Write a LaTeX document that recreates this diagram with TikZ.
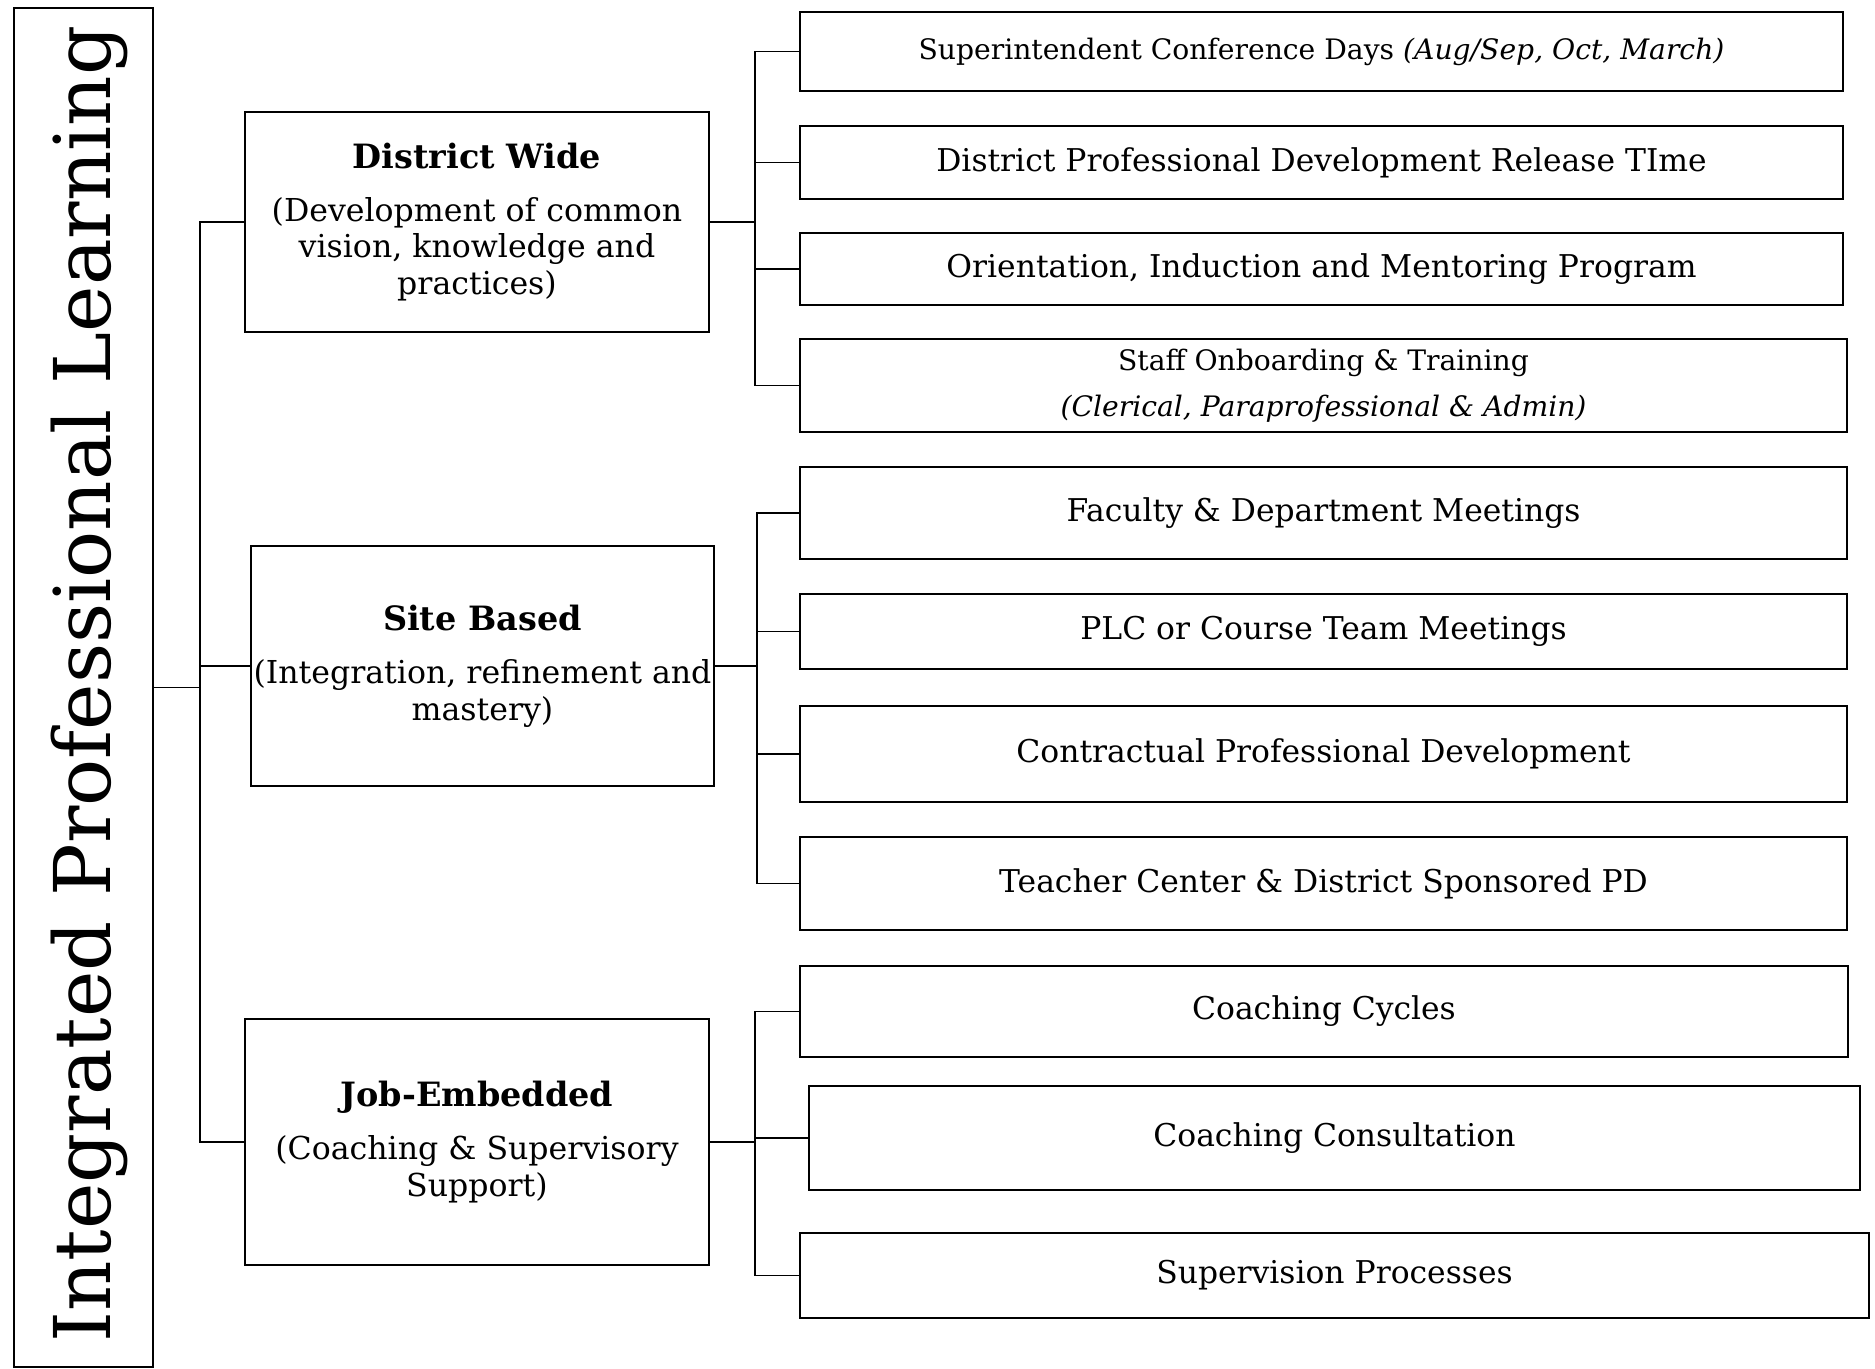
\documentclass[tikz,border=0pt]{standalone}
\usepackage{fontspec}
\setmainfont{DejaVu Serif}
\begin{document}
\begin{tikzpicture}[x=1bp,y=-1bp,
  frame/.style={draw=black,line width=1.6bp,inner sep=0pt,align=center,
    rectangle,text=black},
  item/.style={frame,font=\fontsize{31.5}{36}\selectfont},
  smallitem/.style={frame,font=\fontsize{28.3}{46}\selectfont},
  group/.style={frame,font=\fontsize{31.7}{37}\selectfont},
  head/.style={font=\fontsize{33.6}{37}\selectfont\bfseries},
  link/.style={draw=black,line width=1.6bp}]
\useasboundingbox (0,0) rectangle (1875,1369);

% root column
\node[frame,minimum width=139bp,minimum height=1359bp] (root) at (83.5,687.5) {};
\node[rotate=90,anchor=base,font=\fontsize{78.6}{90}\selectfont,inner sep=0pt]
  (title) at (110,684) {Integrated Professional Learning};

% three groups
\node[group,minimum width=464bp,minimum height=220bp] (dw) at (477,222)
  {{\fontsize{33.6}{37}\selectfont\bfseries District Wide}\\[16bp](Development of common\\vision, knowledge and\\practices)};
\node[group,minimum width=463bp,minimum height=240bp] (sb) at (482.5,666)
  {{\fontsize{33.6}{37}\selectfont\bfseries Site Based}\\[16bp](Integration, refinement and\\mastery)};
\node[group,minimum width=464bp,minimum height=246bp] (je) at (477,1142)
  {{\fontsize{33.6}{37}\selectfont\bfseries Job-Embedded}\\[16bp](Coaching \& Supervisory\\Support)};

% district wide items
\node[smallitem,minimum width=1043bp,minimum height=79bp] (r1) at (1321.5,51.5)
  {Superintendent Conference Days \textit{(Aug/Sep, Oct, March)}};
\node[item,minimum width=1043bp,minimum height=73bp] (r2) at (1321.5,162.5)
  {District Professional Development Release TIme};
\node[item,minimum width=1043bp,minimum height=72bp] (r3) at (1321.5,269)
  {Orientation, Induction and Mentoring Program};
\node[smallitem,minimum width=1047bp,minimum height=93bp] (r4) at (1323.5,385.5)
  {Staff Onboarding \& Training\\\textit{(Clerical, Paraprofessional \& Admin)}};

% site based items
\node[item,minimum width=1047bp,minimum height=92bp] (r5) at (1323.5,513)
  {Faculty \& Department Meetings};
\node[item,minimum width=1047bp,minimum height=75bp] (r6) at (1323.5,631.5)
  {PLC or Course Team Meetings};
\node[item,minimum width=1047bp,minimum height=96bp] (r7) at (1323.5,754)
  {Contractual Professional Development};
\node[item,minimum width=1047bp,minimum height=93bp] (r8) at (1323.5,883.5)
  {Teacher Center \& District Sponsored PD};

% job-embedded items
\node[item,minimum width=1048bp,minimum height=91bp] (r9) at (1324,1011.5)
  {Coaching Cycles};
\node[item,minimum width=1051bp,minimum height=104bp] (r10) at (1334.5,1138)
  {Coaching Consultation};
\node[item,minimum width=1069bp,minimum height=85bp] (r11) at (1334.5,1275.5)
  {Supervision Processes};

% trunk positions
\coordinate (t0) at (200,0);
\coordinate (tA) at (755,0);
\coordinate (tB) at (757,0);
\coordinate (tC) at (755,0);

% root to groups
\draw[link] (root.east) -- (t0 |- root.east);
\draw[link] (dw.west) -| (t0 |- je.west) -- (je.west);
\draw[link] (sb.west) -- (t0 |- sb.west);

% district wide branch
\draw[link] (dw.east) -- (tA |- dw.east);
\draw[link] (r1.west) -| (tA |- r4.west) -- (r4.west);
\draw[link] (r2.west) -- (tA |- r2.west);
\draw[link] (r3.west) -- (tA |- r3.west);

% site based branch
\draw[link] (sb.east) -- (tB |- sb.east);
\draw[link] (r5.west) -| (tB |- r8.west) -- (r8.west);
\draw[link] (r6.west) -- (tB |- r6.west);
\draw[link] (r7.west) -- (tB |- r7.west);

% job-embedded branch
\draw[link] (je.east) -- (tC |- je.east);
\draw[link] (r9.west) -| (tC |- r11.west) -- (r11.west);
\draw[link] (r10.west) -- (tC |- r10.west);
\end{tikzpicture}
\end{document}
